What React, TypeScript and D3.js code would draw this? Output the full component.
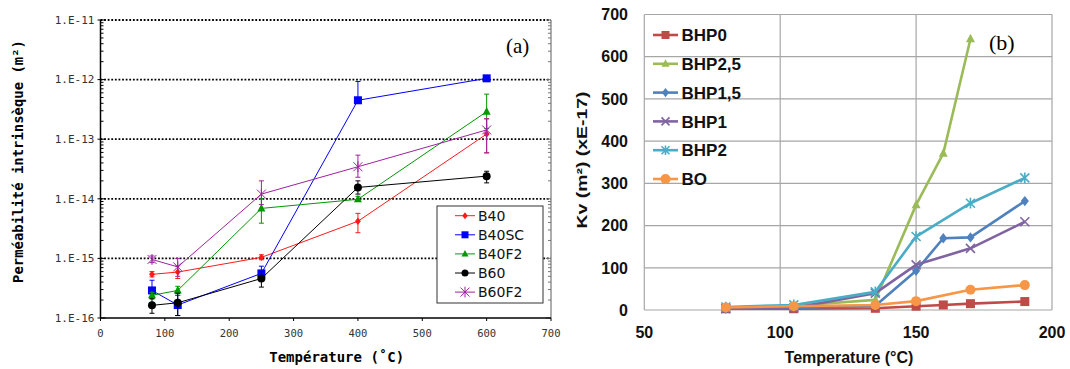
import React from "react";
import * as d3 from "d3";

// ---------- Panel (a) data ----------
const tempsA = [80, 120, 250, 400, 600];
const seriesA = ["B40", "B40SC", "B40F2", "B60", "B60F2"];
const colorsA = ["#ff1a1a", "#0000ff", "#009900", "#000000", "#a020a0"];
const symbolsA = ["diamond", "square", "triangle", "circle", "star"];
const valB40 = [5.4e-16, 5.9e-16, 1.04e-15, 4.2e-15, 1.22e-13];
const valB40SC = [2.9e-16, 1.65e-16, 5.6e-16, 4.5e-13, 1.05e-12];
const valB40F2 = [2.4e-16, 2.9e-16, 6.9e-15, 9.8e-15, 2.9e-13];
const valB60 = [1.63e-16, 1.8e-16, 4.6e-16, 1.55e-14, 2.4e-14];
const valB60F2 = [9.6e-16, 7.2e-16, 1.2e-14, 3.45e-14, 1.43e-13];
const lowB40 = [4.9e-16, 4.6e-16, 9.5e-16, 2.7e-15, 5.9e-14];
const highB40 = [6.0e-16, 7.5e-16, 1.15e-15, 5.7e-15, 2.2e-13];
const lowB40SC = [2.2e-16, 1.1e-16, 4.3e-16, 4.5e-13, 1.0e-12];
const highB40SC = [4.3e-16, 2.4e-16, 7.4e-16, 9.3e-13, 1.1e-12];
const lowB40F2 = [2.1e-16, 2.4e-16, 3.9e-15, 9.0e-15, 1.5e-13];
const highB40F2 = [2.7e-16, 3.4e-16, 1.0e-14, 1.1e-14, 5.7e-13];
const lowB60 = [1.2e-16, 1.1e-16, 3.3e-16, 1.2e-14, 1.85e-14];
const highB60 = [2.1e-16, 2.6e-16, 6.0e-16, 2.0e-14, 2.9e-14];
const lowB60F2 = [8.5e-16, 5.0e-16, 8.0e-15, 2.3e-14, 5.9e-14];
const highB60F2 = [1.1e-15, 1.0e-15, 2.0e-14, 5.4e-14, 2.2e-13];
const valuesA = [valB40, valB40SC, valB40F2, valB60, valB60F2];
const lowsA = [lowB40, lowB40SC, lowB40F2, lowB60, lowB60F2];
const highsA = [highB40, highB40SC, highB40F2, highB60, highB60F2];
const xTicksA = [0, 100, 200, 300, 400, 500, 600, 700];
const yTicksA = [1e-16, 1e-15, 1e-14, 1e-13, 1e-12, 1e-11];
const yTickLabelsA = ["1.E-16", "1.E-15", "1.E-14", "1.E-13", "1.E-12", "1.E-11"];

// ---------- Panel (b) data ----------
const seriesB = ["BHP0", "BHP2,5", "BHP1,5", "BHP1", "BHP2", "BO"];
const colorsB = ["#be4b48", "#9bbb59", "#4f81bd", "#8064a2", "#4bacc6", "#f79646"];
const symbolsB = ["square", "triangle", "diamond", "x", "star", "circle"];
const xBHP0 = [80, 105, 135, 150, 160, 170, 190];
const yBHP0 = [3, 3, 4, 9, 12, 15, 20];
const xBHP25 = [80, 105, 135, 150, 160, 170];
const yBHP25 = [5, 10, 24, 249, 371, 642];
const xBHP15 = [80, 105, 135, 150, 160, 170, 190];
const yBHP15 = [3, 5, 10, 93, 170, 172, 258];
const xBHP1 = [80, 105, 135, 150, 170, 190];
const yBHP1 = [3, 5, 40, 107, 146, 209];
const xBHP2 = [80, 105, 135, 150, 170, 190];
const yBHP2 = [7, 12, 43, 174, 253, 313];
const xBO = [80, 105, 135, 150, 170, 190];
const yBO = [6, 9, 12, 21, 48, 59];
const xsB = [xBHP0, xBHP25, xBHP15, xBHP1, xBHP2, xBO];
const ysB = [yBHP0, yBHP25, yBHP15, yBHP1, yBHP2, yBO];
const xTicksB = [50, 100, 150, 200];
const yTicksB = [0, 100, 200, 300, 400, 500, 600, 700];

function Marker({ type, x, y, size, color, sw = 1 }: any) {
  const s = size / 2;
  if (type === "square")
    return <rect x={x - s} y={y - s} width={size} height={size} fill={color} />;
  if (type === "circle") return <circle cx={x} cy={y} r={s} fill={color} />;
  if (type === "diamond")
    return (
      <path
        d={`M${x},${y - s * 1.15}L${x + s * 0.9},${y}L${x},${y + s * 1.15}L${x - s * 0.9},${y}Z`}
        fill={color}
      />
    );
  if (type === "triangle")
    return (
      <path
        d={`M${x},${y - s * 1.15}L${x + s},${y + s * 0.75}L${x - s},${y + s * 0.75}Z`}
        fill={color}
      />
    );
  if (type === "x")
    return (
      <path
        d={`M${x - s},${y - s}L${x + s},${y + s}M${x - s},${y + s}L${x + s},${y - s}`}
        stroke={color}
        strokeWidth={sw}
        fill="none"
      />
    );
  // star (asterisk)
  return (
    <path
      d={`M${x - s},${y - s}L${x + s},${y + s}M${x - s},${y + s}L${x + s},${y - s}M${x},${y - s * 1.2}L${x},${y + s * 1.2}`}
      stroke={color}
      strokeWidth={sw}
      fill="none"
    />
  );
}

function PanelA() {
  const x = d3.scaleLinear().domain([0, 700]).range([100.5, 551]);
  const y = d3.scaleLog().domain([1e-16, 1e-11]).range([318, 20]);
  const line = d3
    .line<number>()
    .x((_, i) => x(tempsA[i]))
    .y((d) => y(d));
  const minor: number[] = [];
  for (let e = -16; e < -11; e++)
    for (let k = 2; k <= 9; k++) minor.push(k * Math.pow(10, e));
  const mono = "'DejaVu Sans Mono', monospace";
  const legX = 437;
  const legY = 206;
  return (
    <g>
      {/* grid */}
      {yTicksA.slice(1).map((t) => (
        <line
          key={t}
          x1={x(0)}
          x2={x(700)}
          y1={y(t)}
          y2={y(t)}
          stroke="#000"
          strokeWidth={1.8}
          strokeDasharray="1.8,1.8"
        />
      ))}
      {/* frame */}
      <line x1={x(700)} x2={x(700)} y1={y(1e-11)} y2={y(1e-16)} stroke="#777" strokeWidth={1.2} />
      {minor.map((m, i) => (
        <g key={i}>
          <line x1={x(0)} x2={x(0) + 3} y1={y(m)} y2={y(m)} stroke="#000" />
          <line x1={x(700)} x2={x(700) - 3} y1={y(m)} y2={y(m)} stroke="#777" />
        </g>
      ))}
      {yTicksA.map((t) => (
        <g key={t}>
          <line x1={x(0) - 3} x2={x(0) + 5} y1={y(t)} y2={y(t)} stroke="#000" />
          <line x1={x(700) - 5} x2={x(700)} y1={y(t)} y2={y(t)} stroke="#777" />
        </g>
      ))}
      <line x1={x(0)} x2={x(0)} y1={y(1e-11)} y2={y(1e-16)} stroke="#000" strokeWidth={1.5} />
      <line x1={x(0)} x2={x(700)} y1={y(1e-16)} y2={y(1e-16)} stroke="#000" strokeWidth={1.5} />
      {xTicksA.map((t) => (
        <line key={t} x1={x(t)} x2={x(t)} y1={y(1e-16)} y2={y(1e-16) + 3} stroke="#000" />
      ))}
      {/* tick labels */}
      {yTicksA.map((t, i) => (
        <text
          key={t}
          x={x(0) - 6}
          y={y(t)}
          dy="0.35em"
          textAnchor="end"
          fontFamily={mono}
          fontSize={11}
          fill="#333"
        >
          {yTickLabelsA[i]}
        </text>
      ))}
      {xTicksA.map((t) => (
        <text
          key={t}
          x={x(t)}
          y={333}
          dy="0.35em"
          textAnchor="middle"
          fontFamily={mono}
          fontSize={10.5}
          fill="#333"
        >
          {t}
        </text>
      ))}
      {/* titles */}
      <text
        transform="translate(23,161.5) rotate(-90)"
        textAnchor="middle"
        fontFamily={mono}
        fontWeight="bold"
        fontSize={14}
        textLength={243}
        lengthAdjust="spacingAndGlyphs"
      >
        Perméabilité intrinsèque (m²)
      </text>
      <text
        x={336.7}
        y={362}
        textAnchor="middle"
        fontFamily={mono}
        fontWeight="bold"
        fontSize={14}
      >
        Température (˚C)
      </text>
      {/* series */}
      {valuesA.map((vals, si) => (
        <g key={si}>
          {vals.map((v, i) => (
            <g key={i} stroke={colorsA[si]} strokeWidth={1}>
              <line x1={x(tempsA[i])} x2={x(tempsA[i])} y1={y(lowsA[si][i])} y2={y(highsA[si][i])} />
              <line x1={x(tempsA[i]) - 2.5} x2={x(tempsA[i]) + 2.5} y1={y(lowsA[si][i])} y2={y(lowsA[si][i])} />
              <line x1={x(tempsA[i]) - 2.5} x2={x(tempsA[i]) + 2.5} y1={y(highsA[si][i])} y2={y(highsA[si][i])} />
            </g>
          ))}
          <path d={line(vals) || ""} fill="none" stroke={colorsA[si]} strokeWidth={1} />
          {vals.map((v, i) => (
            <Marker
              key={i}
              type={symbolsA[si]}
              x={x(tempsA[i])}
              y={y(v)}
              size={symbolsA[si] === "diamond" ? 6.5 : symbolsA[si] === "star" ? 9 : 8}
              color={colorsA[si]}
            />
          ))}
        </g>
      ))}
      {/* legend */}
      <rect x={legX} y={legY} width={106} height={97} fill="#fff" stroke="#333" strokeWidth={1} />
      {seriesA.map((s, i) => {
        const ly = 215.7 + i * 19.1;
        return (
          <g key={s}>
            <line x1={455} x2={475} y1={ly} y2={ly} stroke={colorsA[i]} strokeWidth={1} />
            <Marker
              type={symbolsA[i]}
              x={465}
              y={ly}
              size={symbolsA[i] === "diamond" ? 6 : symbolsA[i] === "star" ? 9 : 7}
              color={colorsA[i]}
            />
            <text x={478} y={ly} dy="0.36em" fontFamily="'DejaVu Sans', sans-serif" fontSize={14} fill="#111">
              {s}
            </text>
          </g>
        );
      })}
      <text x={506} y={53} fontFamily="'Liberation Serif', serif" fontSize={21} fill="#000">
        (a)
      </text>
    </g>
  );
}

function PanelB() {
  const x = d3.scaleLinear().domain([50, 200]).range([644.3, 1052]);
  const y = d3.scaleLinear().domain([0, 700]).range([310, 14.5]);
  const arial = "'Liberation Sans', Arial, sans-serif";
  return (
    <g>
      {yTicksB.map((t) => (
        <line key={t} x1={x(50)} x2={x(200)} y1={y(t)} y2={y(t)} stroke="#a6a6a6" strokeWidth={1.2} />
      ))}
      {xTicksB.map((t) => (
        <line key={t} x1={x(t)} x2={x(t)} y1={y(0)} y2={y(700)} stroke="#a6a6a6" strokeWidth={1.2} />
      ))}
      {yTicksB.map((t) => (
        <text
          key={t}
          x={628}
          y={y(t)}
          dy="0.36em"
          textAnchor="end"
          fontFamily={arial}
          fontWeight="bold"
          fontSize={16}
          fill="#111"
        >
          {t}
        </text>
      ))}
      {xTicksB.map((t) => (
        <text
          key={t}
          x={x(t)}
          y={332}
          dy="0.36em"
          textAnchor="middle"
          fontFamily={arial}
          fontWeight="bold"
          fontSize={16}
          fill="#111"
        >
          {t}
        </text>
      ))}
      <text
        x={849}
        y={363}
        textAnchor="middle"
        fontFamily={arial}
        fontWeight="bold"
        fontSize={16}
        fill="#111"
      >
        Temperature (°C)
      </text>
      <text
        transform="translate(587,160) rotate(-90)"
        textAnchor="middle"
        fontFamily={arial}
        fontWeight="bold"
        fontSize={15}
        fill="#111"
        textLength={137}
        lengthAdjust="spacingAndGlyphs"
      >
        Kv (m²)  (xE-17)
      </text>
      {/* series */}
      {ysB.map((vals, si) => {
        const pts: [number, number][] = vals.map((v, i) => [x(xsB[si][i]), y(v)]);
        return (
          <g key={si}>
            <path
              d={d3.line()(pts) || ""}
              fill="none"
              stroke={colorsB[si]}
              strokeWidth={2.6}
              strokeLinejoin="round"
            />
            {pts.map((p, i) => (
              <Marker
                key={i}
                type={symbolsB[si]}
                x={p[0]}
                y={p[1]}
                size={symbolsB[si] === "circle" ? 10 : 9}
                color={colorsB[si]}
                sw={1.6}
              />
            ))}
          </g>
        );
      })}
      {/* legend */}
      {seriesB.map((s, i) => {
        const ly = 35 + i * 28.8;
        return (
          <g key={s}>
            <line x1={653} x2={678} y1={ly} y2={ly} stroke={colorsB[i]} strokeWidth={2.6} />
            <Marker
              type={symbolsB[i]}
              x={665.5}
              y={ly}
              size={symbolsB[i] === "circle" ? 10 : 8}
              color={colorsB[i]}
              sw={1.6}
            />
            <text x={681.5} y={ly} dy="0.36em" fontFamily={arial} fontWeight="bold" fontSize={17} fill="#111">
              {s}
            </text>
          </g>
        );
      })}
      <text x={989} y={50} fontFamily="'Liberation Serif', serif" fontSize={22} fill="#000">
        (b)
      </text>
    </g>
  );
}

export default function App() {
  return (
    <svg
      width={1070}
      height={369}
      style={{ position: "absolute", left: 0, top: 0, background: "#fff" }}
    >
      <rect width={1070} height={369} fill="#fff" />
      <PanelA />
      <PanelB />
    </svg>
  );
}
